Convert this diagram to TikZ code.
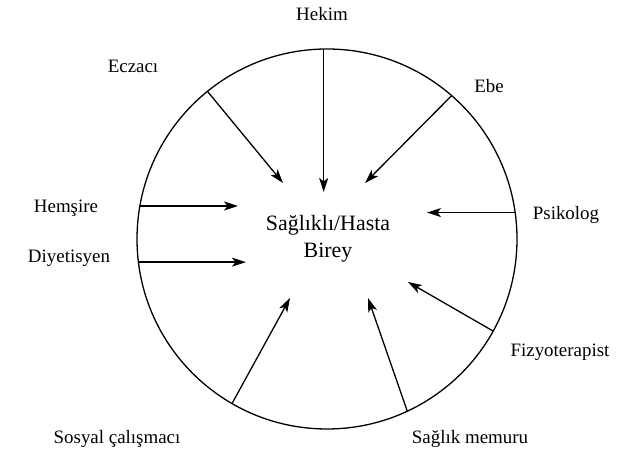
\documentclass[tikz,border=0pt]{standalone}
\usepackage{fontspec}
\setmainfont{Liberation Serif}
\usetikzlibrary{arrows.meta}
\begin{document}
\begin{tikzpicture}[x=1bp,y=1bp,
  lbl/.style={inner sep=0pt,font=\fontsize{19}{22}\selectfont},
  arr/.style={line width=1.3bp,-{Stealth[length=14bp,width=9bp,inset=3.5bp]}}]
\useasboundingbox (0,0) rectangle (639,454);
\node[circle,draw,line width=1.3bp,minimum size=380bp,inner sep=0pt,outer sep=0pt] (c) at (327,215) {};
\node[inner sep=0pt,align=center,font=\fontsize{22}{27}\selectfont] (mid) at (328,215) {Sağlıklı/Hasta\\Birey};
% labels
\node[lbl] (hekim) at (322,440) {Hekim};
\node[lbl] (eczaci) at (133,388) {Eczacı};
\node[lbl] (ebe) at (489,368) {Ebe};
\node[lbl] (hemsire) at (66,246) {Hemşire};
\node[lbl] (diyet) at (69,196) {Diyetisyen};
\node[lbl] (psiko) at (566,239) {Psikolog};
\node[lbl] (fizyo) at (560,102) {Fizyoterapist};
\node[lbl] (sosyal) at (117,15) {Sosyal çalışmacı};
\node[lbl] (memur) at (470,15) {Sağlık memuru};
% arrow tips
\coordinate (t1) at (323,262);
\coordinate (t2) at (283,271);
\coordinate (t3) at (365,271);
\coordinate (t4) at (238,246);
\coordinate (t5) at (246,191);
\coordinate (t6) at (427,242);
\coordinate (t7) at (408,172);
\coordinate (t8) at (290,156);
\coordinate (t9) at (368,156);
\draw[arr] (c.91.2) -- (c.91.2 |- t1);
\draw[arr] (c.129) -- (t2);
\draw[arr] (c.49.3) -- (t3);
\draw[arr] (c.170.6) -- (c.170.6 -| t4);
\draw[arr] (c.187.3) -- (c.187.3 -| t5);
\draw[arr] (c.8.1) -- (c.8.1 -| t6);
\draw[arr] (c.-29.2) -- (t7);
\draw[arr] (c.240.7) -- (t8);
\draw[arr] (c.295) -- (t9);
\end{tikzpicture}
\end{document}
